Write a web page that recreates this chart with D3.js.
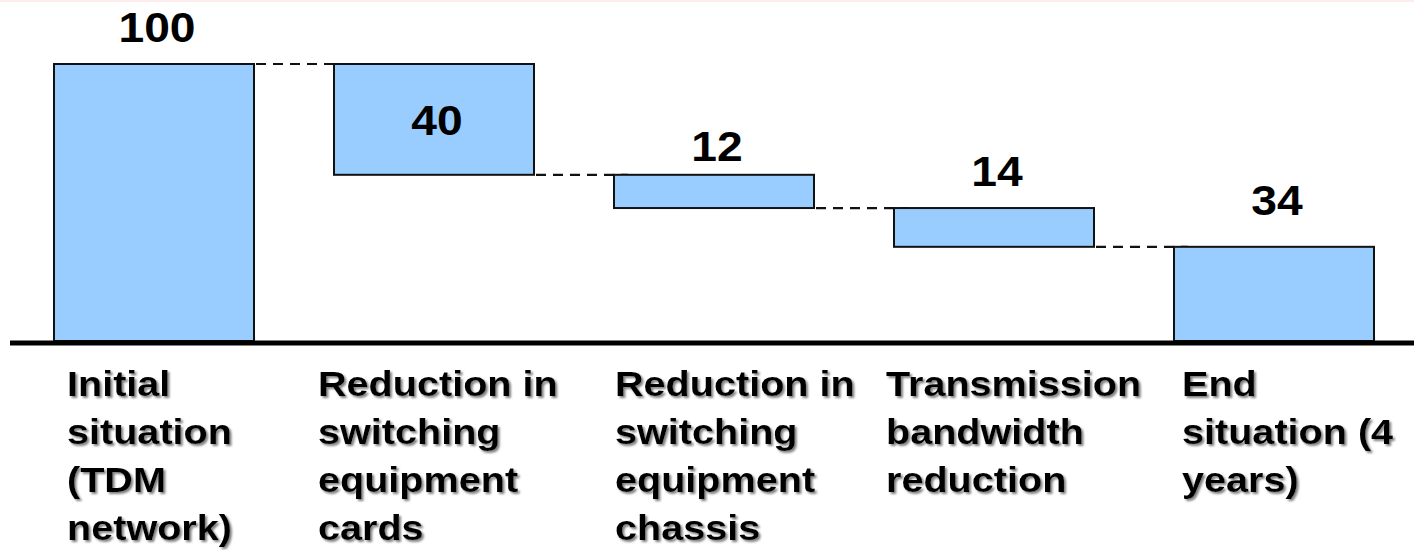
<!DOCTYPE html>
<html>
<head>
<meta charset="utf-8">
<script src="https://cdn.jsdelivr.net/npm/d3@7/dist/d3.min.js"></script>
<style>
  html, body { margin: 0; padding: 0; background: #fff; }
  svg { display: block; }
  text { font-family: "Liberation Sans", Arial, Helvetica, sans-serif; font-weight: bold; fill: #000; }
</style>
</head>
<body>
<svg id="chart" width="1414" height="550"></svg>
<script>
// Waterfall steps: category label lines and signed values
const categories = [
  ["Initial", "situation", "(TDM", "network)"],
  ["Reduction in", "switching", "equipment", "cards"],
  ["Reduction in", "switching", "equipment", "chassis"],
  ["Transmission", "bandwidth", "reduction"],
  ["End", "situation (4", "years)"]
];
const values = [100, -40, -12, -14, 34];
const isTotal = [true, false, false, false, true];
const valueLabels = ["100", "40", "12", "14", "34"];

// Layout tweaks for label placement
const valueLabelGap = [22, null, 14, 22, 32];   // null = centred inside the bar
const categoryShift = [13, -16, 1, -8, 8];

const W = 1414, H = 550;
const svg = d3.select("#chart");

// Faint rule along the top edge
svg.append("rect").attr("x", 0).attr("y", 0).attr("width", W).attr("height", 2)
  .attr("fill", "#fcecec");

// Compute the floating segments
let running = 0;
const steps = values.map((v, i) => {
  let y0, y1;
  if (isTotal[i]) { y0 = 0; y1 = v; running = v; }
  else { y0 = running; y1 = running + v; running = y1; }
  return { i, cat: categories[i], lo: Math.min(y0, y1), hi: Math.max(y0, y1), end: y1, label: valueLabels[i] };
});

const x = d3.scaleBand()
  .domain(d3.range(categories.length))
  .range([14, 1414])
  .paddingInner(80 / 280)
  .paddingOuter(40 / 280);

const y = d3.scaleLinear().domain([0, 100]).range([341, 64]);

// Drop shadow for the category labels
const defs = svg.append("defs");
const f = defs.append("filter").attr("id", "shadow")
  .attr("x", "-10%").attr("y", "-20%").attr("width", "130%").attr("height", "150%");
f.append("feDropShadow").attr("dx", 2).attr("dy", 2).attr("stdDeviation", 0.8)
  .attr("flood-color", "#808080").attr("flood-opacity", 1);

// Dashed connectors between consecutive bars
const overhang = 14;
svg.append("g").selectAll("line")
  .data(steps.slice(0, -1))
  .join("line")
  .attr("x1", d => x(d.i) + x.bandwidth() + 2)
  .attr("x2", d => x(d.i + 1) + overhang)
  .attr("y1", d => y(d.end))
  .attr("y2", d => y(d.end))
  .attr("stroke", "#111")
  .attr("stroke-width", 2.2)
  .attr("stroke-dasharray", "10,7");

// Bars
svg.append("g").selectAll("rect")
  .data(steps)
  .join("rect")
  .attr("x", d => x(d.i))
  .attr("y", d => y(d.hi))
  .attr("width", x.bandwidth())
  .attr("height", d => y(d.lo) - y(d.hi))
  .attr("fill", "#99ccff")
  .attr("stroke", "#111")
  .attr("stroke-width", 2);

// Baseline
svg.append("line")
  .attr("x1", 10).attr("x2", W)
  .attr("y1", y(0) + 2).attr("y2", y(0) + 2)
  .attr("stroke", "#000").attr("stroke-width", 5);

// Value labels
svg.append("g").selectAll("text")
  .data(steps)
  .join("text")
  .attr("transform", d => {
    const cx = x(d.i) + x.bandwidth() / 2 + 3;
    const cy = valueLabelGap[d.i] === null
      ? (y(d.hi) + y(d.lo)) / 2 + 16
      : y(d.hi) - valueLabelGap[d.i];
    return `translate(${cx},${cy}) scale(1.1,1)`;
  })
  .attr("text-anchor", "middle")
  .style("font-size", "42px")
  .text(d => d.label);

// Category labels, one tspan per line
const cat = svg.append("g").attr("filter", "url(#shadow)").selectAll("text")
  .data(steps)
  .join("text")
  .attr("transform", d => `translate(${x(d.i) + categoryShift[d.i]},396) scale(1.1,1)`)
  .style("font-size", "36px");
cat.selectAll("tspan")
  .data(d => d.cat)
  .join("tspan")
  .attr("x", 0)
  .attr("dy", (d, j) => j === 0 ? 0 : 48)
  .text(d => d);
</script>
</body>
</html>
